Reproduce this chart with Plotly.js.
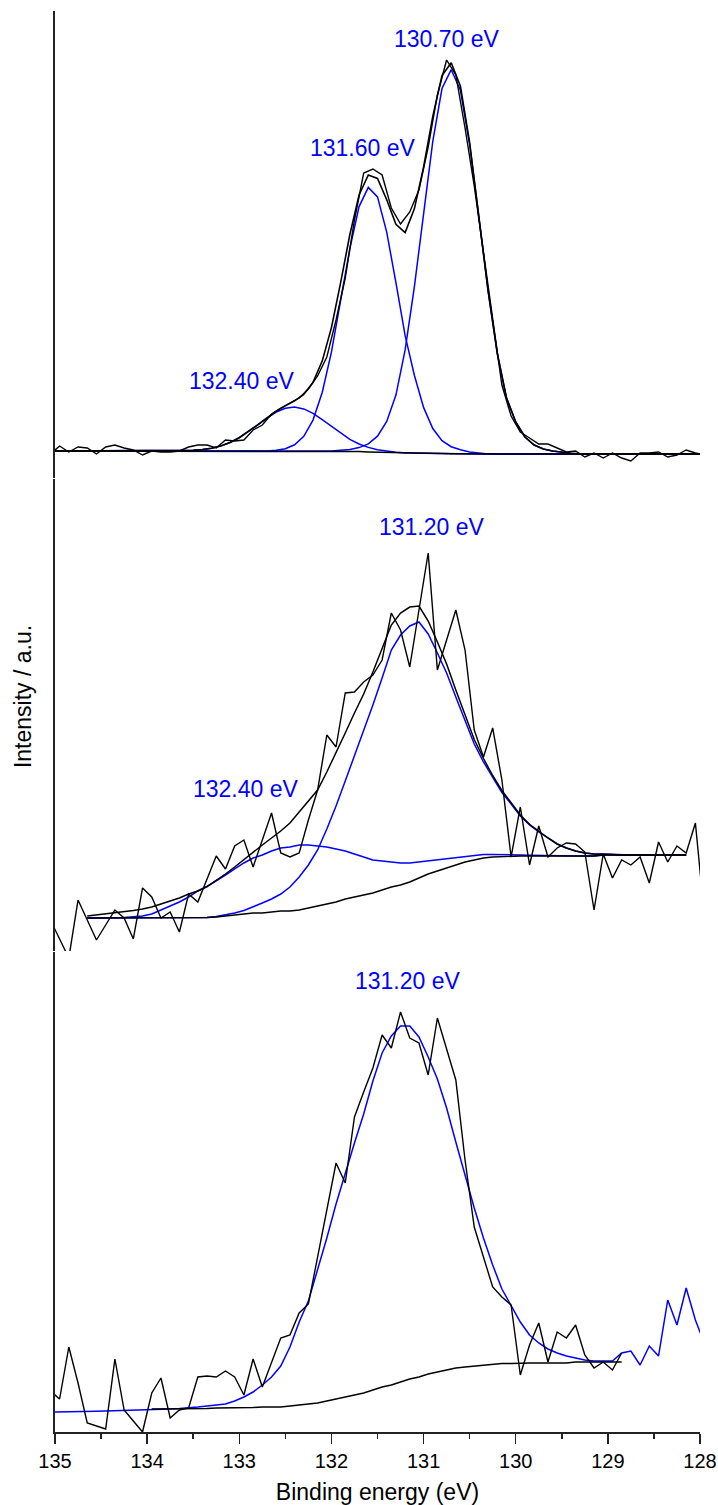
<!DOCTYPE html>
<html>
<head>
<meta charset="utf-8">
<script src="https://cdn.plot.ly/plotly-3.0.1.min.js"></script>
<style>html,body{margin:0;padding:0;background:#fff;}#chart{width:718px;height:1505px;}</style>
</head>
<body>
<div id="chart"></div>
<script>
// Binding energy grids (eV)
const energyHalf = [135.05,134.95,134.85,134.75,134.65,134.55,134.45,134.35,134.25,134.15,
  134.05,133.95,133.85,133.75,133.65,133.55,133.45,133.35,133.25,133.15,
  133.05,132.95,132.85,132.75,132.65,132.55,132.45,132.35,132.25,132.15,
  132.05,131.95,131.85,131.75,131.65,131.55,131.45,131.35,131.25,131.15,
  131.05,130.95,130.85,130.75,130.65,130.55,130.45,130.35,130.25,130.15,
  130.05,129.95,129.85,129.75,129.65,129.55,129.45,129.35,129.25,129.15,
  129.05,128.95,128.85,128.75,128.65,128.55,128.45,128.35,128.25,128.15,
  128.05,127.95];
const energyInt = [135.0,134.9,134.8,134.7,134.6,134.5,134.4,134.3,134.2,134.1,
  134.0,133.9,133.8,133.7,133.6,133.5,133.4,133.3,133.2,133.1,
  133.0,132.9,132.8,132.7,132.6,132.5,132.4,132.3,132.2,132.1,
  132.0,131.9,131.8,131.7,131.6,131.5,131.4,131.3,131.2,131.1,
  131.0,130.9,130.8,130.7,130.6,130.5,130.4,130.3,130.2,130.1,
  130.0,129.9,129.8,129.7,129.6,129.5,129.4,129.3,129.2,129.1,
  129.0,128.9,128.8,128.7,128.6,128.5,128.4,128.3,128.2,128.1,
  128.0];

// ---- Top panel (intensity, a.u.) ----
const topRaw = [24,32,26,31,30,24,31,33,30,28,
  23,27,26,26,27,31,33,33,30,38,
  37,38,48,53,64,70,75,80,89,102,
  121,158,200,258,305,309,303,270,254,266,
  288,331,383,418,403,350,292,226,160,93,
  62,46,40,34,34,30,26,27,21,25,
  20,25,20,17,25,25,26,21,23,28,
  25,23];
const topEnvelope = [27,27,27,27,27,27,27,27,27,27,
  27,27,27,27,27,27.7,28.5,29.8,32.1,35.5,
  40.3,46.3,53.1,60.0,66.7,72.1,77.2,83.7,95.6,116.9,
  150.4,195.3,243.5,283.0,303.1,299.6,278.2,253.6,245.4,269.2,
  310.9,361.7,402.5,415.3,391.7,335.5,262,187.4,124.7,80.1,
  56,41,33,29,27,25.5,24.7,24,24,24,
  24,24,24,24,24,24,24,24,24,24,
  24];
const topBackground = [27,27,27,27,27,27,27,27,27,27,
  27,27,27,27,27,27,27,27,27,27,
  27,27,27,27,27,27,27,27,27,27,
  27,26.8,26.6,26.4,26.1,25.8,25.5,25.2,25.0,24.8,
  24.6,24.5,24.4,24.3,24.2,24.1,24,24,24,24,
  24,24,24,24,24,24,24,24,24,24,
  24,24,24,24,24,24,24,24,24,24,
  24];
const topPeak13070 = [27,27,27,27,27,27,27,27,27,27,
  27,27,27,27,27,27,27,27,27,27,
  27,27,27,27,27,27,27,27,27,27,
  27,27.8,28.6,30.4,34.1,41.8,56.5,82.9,128.1,191.2,
  264.9,336.7,389.5,408.3,387.7,333.5,261,187.4,124.7,80.1,
  56,41,33,29,27,25.5,24.7,24,24,24,
  24,24,24,24,24,24,24,24,24,24,
  24];
const topPeak13160 = [27,27,27,27,27,27,27,27,27,27,
  27,27,27,27,27,27,27,27,27,27,
  27,27,27,27,27.8,29.3,33.2,41.6,57.9,85.5,
  125.9,176.5,229.5,271.4,290.6,281.1,245.9,195.3,142.3,102.8,
  70.6,49.5,37.4,31.3,28.2,26.1,25,24,24,24,
  24,24,24,24,24,24,24,24,24,24,
  24,24,24,24,24,24,24,24,24,24,
  24];
const topPeak13240 = [27,27,27,27,27,27,27,27,27,27,
  27,27,27,27,27,27.7,28.5,29.8,32.1,35.5,
  40.3,46.3,53.1,60.0,65.9,69.8,71.0,69.1,64.7,58.4,
  51.5,44.6,38.6,34.0,30.6,28.3,26.8,25.8,25.0,24.8,
  24.6,24.5,24.4,24.3,24.2,24.1,24,24,24,24,
  24,24,24,24,24,24,24,24,24,24,
  24,24,24,24,24,24,24,24,24,24,
  24];

// ---- Middle panel ----
const midRaw = [31,12,-7,51,31,11,26,41,33,12,
  63,54,33,39,19,57,49,72,95,82,
  105,111,84,111,138,98,94,98,131,161,
  216,204,258,259,269,276,291,338,321,284,
  341,398,281,311,341,301,221,194,223,171,
  94,144,86,125,94,103,108,107,99,41,
  97,73,91,86,94,68,109,89,105,98,
  128,33];
// fit curves cover energyHalf[4] .. energyHalf[69]
const midEnvelope = [35,36,37,38,39,40.5,42,44,47,50,
  53,57,60,64.5,70.5,77,84,91.5,99,106,
  113,120,128,139,149,161,179,198,218,238,
  257,279,302,326,338,344,345,330,309,287,
  261,235.5,211.5,192.5,175.5,160.5,148.5,136,126.7,119.5,
  113,107,103,100,98,97,97,96.5,96,96,
  96,96,96,96,96,96];
const midBackground = [33,33,33,33,33,33,33,33,33,33,
  33,33,33,33.5,34,35,36,37,38,38,
  39,40,40,41,43,45,47,49,52,54,
  56,58,61,64,66,69,73,77,80,83,
  86,89,91,93,94,94.5,95,95,95,95,
  95,95,95,95,95,95,96,96,96,96,
  96,96,96,96,96,96];
const midPeak13120 = [33,33,33,33,33,33,33,33,33,33,
  33,33,33,33.5,34.5,36,38,40.5,44,48,
  52,57,64,74,86,101,122,145,170,195,
  219,246,273,301,316,325,329,317,298,278,
  254,230,207,189,173,158.5,147,135,126,119,
  113,107,103,100,98,97,97,96.5,96,96,
  96,96,96,96,96,96];
const midPeak13240 = [33,33,33,33.3,33.6,34.2,35,37,41,45,
  49,54,60,64.5,70,76,82,88,93,96,
  100,103,104,106,106,105,104,102,100,97,
  94,91,90,89,88,88,89,90,91,92,
  93,94.5,95.5,96.5,96.5,96.5,96.5,96,95.7,95.5,
  95,95,95,95,95,95,96,96,96,96,
  96,96,96,96,96,96];

// ---- Bottom panel ----
// raw covers energyHalf[0] .. energyHalf[62]
const botRaw = [41,33,85,49,9,6,3,73,22,11,
  0,39,54,14,22,24,55,56,55,61,
  55,37,73,45,69,94,97,119,128,174,
  222,269,249,315,340,364,397,384,420,394,
  389,357,414,382,352,272,205,175,145,135,
  127,57,87,109,70,100,94,107,77,64,
  70,62,79];
const botPeak13120 = [20,20,20,20.3,20.5,20.7,21,21.2,21.5,21.8,
  22,22.3,22.6,23,23.5,24,25,26,27,28,
  31,35,40,47,55,66,85,110,131,162,
  194,228,259,289,318,351,379,396,406,406,
  395,375,353,324,290,256,224,194,167,143,
  126,110,97,89,83,79,76,74,72,71,
  71,71,79,81,67,86,76,132,107,144,
  112,88];
// background covers energyHalf[11] .. energyHalf[62]
const botBackground = [23,23,23,23,23,23.5,23.5,24,24,24,
  24.5,24.5,25,25,25,26,27,28,29,31,
  33,35,37,39,42,45,47,50,53,55,
  58,60,62,64,65,66,67,68,68.5,68.5,
  69,69,69,69,69,69,70,70,70,70,
  70,70];

const peakLabels = ['130.70 eV','131.60 eV','132.40 eV','131.20 eV','132.40 eV','131.20 eV'];

const BLACK = '#000000', BLUE = '#0000ff';
const FONT = 'Liberation Sans, Arial, Helvetica, sans-serif';

function line(x, y, color, width, xa, ya) {
  return {type:'scatter', mode:'lines', x:x, y:y, xaxis:xa, yaxis:ya,
    line:{color:color, width:width}, hoverinfo:'skip', showlegend:false};
}

const midX = energyHalf.slice(4, 70);
const traces = [
  // top
  line(energyInt, topPeak13240, BLUE, 1.5, 'x3', 'y3'),
  line(energyInt, topPeak13160, BLUE, 1.5, 'x3', 'y3'),
  line(energyInt, topPeak13070, BLUE, 1.5, 'x3', 'y3'),
  line(energyInt, topBackground, BLACK, 1.5, 'x3', 'y3'),
  line(energyInt, topEnvelope, BLACK, 1.6, 'x3', 'y3'),
  line(energyHalf, topRaw, BLACK, 1.4, 'x3', 'y3'),
  // middle
  line(midX, midPeak13240, BLUE, 1.5, 'x2', 'y2'),
  line(midX, midPeak13120, BLUE, 1.5, 'x2', 'y2'),
  line(midX, midBackground, BLACK, 1.4, 'x2', 'y2'),
  line(midX, midEnvelope, BLACK, 1.5, 'x2', 'y2'),
  line(energyHalf, midRaw, BLACK, 1.4, 'x2', 'y2'),
  // bottom
  line(energyHalf, botPeak13120, BLUE, 1.5, 'x', 'y'),
  line(energyHalf.slice(11, 63), botBackground, BLACK, 1.4, 'x', 'y'),
  line(energyHalf.slice(0, 63), botRaw, BLACK, 1.4, 'x', 'y')
];

const yBase = {showline:true, linecolor:'#222', linewidth:2, ticks:'', showticklabels:false,
  showgrid:false, zeroline:false, fixedrange:true};
const xHidden = {matches:'x', visible:false, showgrid:false, zeroline:false};

function label(text, x, y, yref) {
  return {text:text, x:x, y:y, xref:'x', yref:yref, showarrow:false,
    xanchor:'center', yanchor:'middle', font:{family:FONT, size:23, color:BLUE}};
}

const layout = {
  width:718, height:1505,
  margin:{l:55, r:18, t:11, b:73},
  paper_bgcolor:'#ffffff', plot_bgcolor:'#ffffff',
  showlegend:false,
  font:{family:FONT, color:'#000'},
  xaxis:{range:[135,128], domain:[0,1], anchor:'y', showline:true, linecolor:'#222', linewidth:1.5,
    ticks:'outside', ticklen:10, tickwidth:1.5, tickcolor:'#222', dtick:1, tick0:128,
    minor:{dtick:0.5, ticks:'outside', ticklen:5, tickwidth:1.5, tickcolor:'#222', showgrid:false},
    tickfont:{family:FONT, size:20, color:'#000'},
    showgrid:false, zeroline:false,
    title:{text:'Binding energy (eV)', font:{family:FONT, size:23, color:'#000'}, standoff:14}},
  xaxis2:Object.assign({anchor:'y2'}, xHidden),
  xaxis3:Object.assign({anchor:'y3'}, xHidden),
  yaxis:Object.assign({domain:[0,0.33779], range:[0,480]}, yBase),
  yaxis2:Object.assign({domain:[0.3385,0.67065], range:[0,472]}, yBase),
  yaxis3:Object.assign({domain:[0.67136,1], range:[0,467]}, yBase),
  annotations:[
    label(peakLabels[0], 130.746, 439, 'y3'),
    label(peakLabels[1], 131.652, 330, 'y3'),
    label(peakLabels[2], 132.976, 97, 'y3'),
    label(peakLabels[3], 130.912, 424.5, 'y2'),
    label(peakLabels[4], 132.930, 161.5, 'y2'),
    label(peakLabels[5], 131.169, 451, 'y'),
    {text:'Intensity / a.u.', xref:'paper', yref:'paper', x:-0.0496, y:0.5172,
     textangle:-90, showarrow:false, xanchor:'center', yanchor:'middle',
     font:{family:FONT, size:23, color:'#000'}}
  ]
};

Plotly.newPlot('chart', traces, layout, {staticPlot:true, displayModeBar:false});
</script>
</body>
</html>
